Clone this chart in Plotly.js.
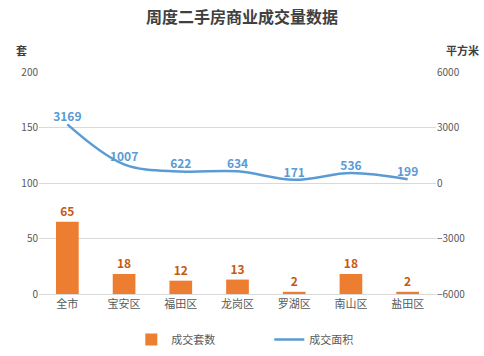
<!DOCTYPE html>
<html><head><meta charset="utf-8">
<script src="https://cdn.plot.ly/plotly-3.0.1.min.js"></script>
<style>body{margin:0;background:#fff}#c{width:484px;height:356px}</style>
</head><body><div id="c"></div>
<script>
const categories = ["全市","宝安区","福田区","龙岗区","罗湖区","南山区","盐田区"];
const units = [65,18,12,13,2,18,2];
const area = [3169,1007,622,634,171,536,199];
const leftTicks = [0,50,100,150,200];
const rightTicks = [-6000,-3000,0,3000,6000];

const font = "Noto Sans CJK SC, Microsoft YaHei, sans-serif";
const traces = [
  {type:"bar", name:"成交套数", x:categories, y:units, width:0.4,
   marker:{color:"#ED7D31"}, text:units.map(String), textposition:"outside",
   textfont:{color:"#C55A11", size:12, family:font, weight:"bold"}, cliponaxis:false},
  {type:"scatter", mode:"lines+text", name:"成交面积", x:categories, y:area, yaxis:"y2",
   line:{color:"#5B9BD5", width:2.5, shape:"spline", smoothing:1},
   text:area.map(String), textposition:"top center",
   textfont:{color:"#5B9BD5", size:12, family:font, weight:"bold"}, cliponaxis:false}
];
const layout = {
  width:484, height:356, margin:{l:39, r:48, t:72, b:62, autoexpand:false},
  paper_bgcolor:"#fff", plot_bgcolor:"#fff",
  font:{family:font, color:"#595959", size:10},
  title:{text:"周度二手房商业成交量数据", x:0.5, xanchor:"center", y:0.95, yanchor:"middle",
         font:{family:font, size:16, color:"#404040", weight:"bold"}},
  showlegend:true, bargap:0.6,
  legend:{orientation:"h", x:0.2325, xanchor:"left", y:-0.205, yanchor:"middle",
          font:{size:11, color:"#595959"}, itemwidth:30, entrywidth:93, entrywidthmode:"pixels", tracegroupgap:0},
  xaxis:{showgrid:false, showline:true, linecolor:"#d9d9d9", ticks:"", automargin:false,
         tickfont:{size:11, color:"#595959"}},
  yaxis:{range:[0,200], tickvals:leftTicks, showgrid:true, gridcolor:"#d9d9d9", automargin:false,
         zeroline:false, showline:false, tickfont:{size:10, color:"#595959"}},
  yaxis2:{range:[-6000,6000], tickvals:rightTicks, overlaying:"y", side:"right", automargin:false,
          showgrid:false, zeroline:false, showline:false, tickfont:{size:10, color:"#595959"}},
  annotations:[
    {text:"套", xref:"paper", yref:"paper", x:-0.043, y:1.1, xanchor:"center", yanchor:"middle", showarrow:false,
     font:{size:11, color:"#404040", weight:"bold"}},
    {text:"平方米", xref:"paper", yref:"paper", x:1.066, y:1.1, xanchor:"center", yanchor:"middle", showarrow:false,
     font:{size:11, color:"#404040", weight:"bold"}}
  ]
};
Plotly.newPlot("c", traces, layout, {displayModeBar:false, staticPlot:true});
</script></body></html>
